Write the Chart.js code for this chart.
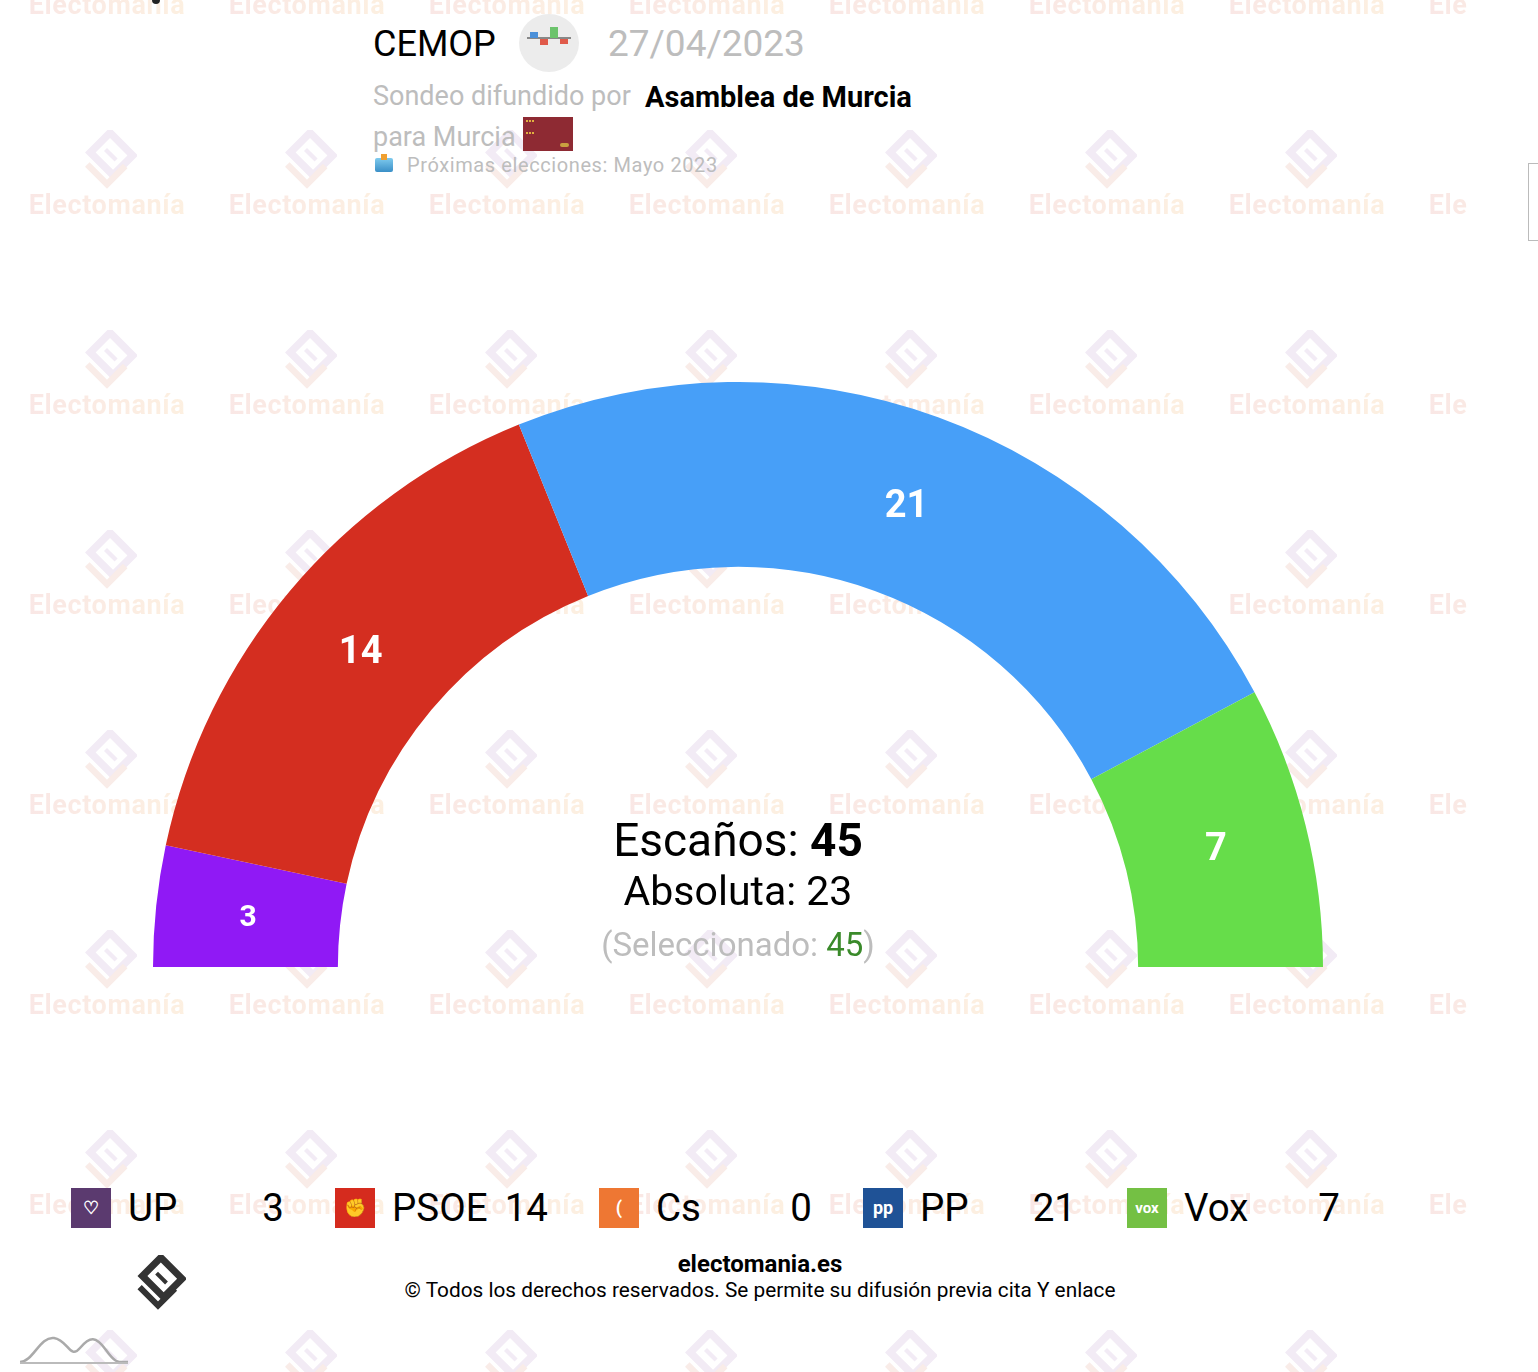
<!DOCTYPE html>
<html>
<head>
<meta charset="utf-8">
<script src="https://cdn.jsdelivr.net/npm/chart.js@4.4.0/dist/chart.umd.min.js"></script>
<style>
  html, body { margin:0; padding:0; background:#fff; }
  body { width:1538px; height:1372px; position:relative; overflow:hidden; font-family: Roboto, "Noto Sans", sans-serif; }
  .abs { position:absolute; white-space:nowrap; }
  #wm { position:absolute; left:0; top:0; width:1467px; height:1372px; overflow:hidden; z-index:0; }
  .wmt { position:absolute; font-weight:700; font-size:27px; letter-spacing:0.6px; width:200px; text-align:center;
         background: linear-gradient(90deg, #f9e6e6, #fdf1e0); -webkit-background-clip:text; background-clip:text; color:transparent; }
  .wml { position:absolute; }
  #chartBox { position:absolute; left:153px; top:382px; width:1170px; height:585px; z-index:1; }
  .leg { position:absolute; top:1188px; height:40px; z-index:2; }
  .ico { position:absolute; left:0; top:0; width:40px; height:40px; color:#fff; font-weight:700; font-size:18px; text-align:center; line-height:40px; }
  .lname { position:absolute; left:57px; top:-4px; font-size:38.5px; color:#000; line-height:48px; }
  .lval { position:absolute; top:-4px; font-size:38.5px; color:#000; line-height:48px; text-align:right; }
  .z { z-index:2; }
</style>
</head>
<body>
<div id="wm"></div>

<!-- header -->
<div class="abs z" style="left:373px; top:22px; font-size:36px; color:#000; line-height:44px;">CEMOP</div>
<div class="abs z" style="left:519px; top:14px; width:60px; height:58px; border-radius:50%; background:#ececec;"></div>
<div class="abs z" style="left:527px; top:37px; width:44px; height:2px; background:#888;"></div>
<div class="abs z" style="left:530px; top:32px; width:8px; height:6px; background:#4a90d9;"></div>
<div class="abs z" style="left:540px; top:39px; width:8px; height:6px; background:#e05a4a;"></div>
<div class="abs z" style="left:550px; top:27px; width:8px; height:11px; background:#6cc36c;"></div>
<div class="abs z" style="left:560px; top:39px; width:8px; height:5px; background:#e05a4a;"></div>
<div class="abs z" style="left:608px; top:22px; font-size:37px; color:#bdbdbd; line-height:44px;">27/04/2023</div>
<div class="abs z" style="left:373px; top:80px; font-size:27px; color:#bdbdbd; line-height:32px;">Sondeo difundido por</div>
<div class="abs z" style="left:645px; top:80px; font-size:29px; font-weight:700; color:#000; line-height:34px;">Asamblea de Murcia</div>
<div class="abs z" style="left:373px; top:121px; font-size:27px; color:#bdbdbd; line-height:32px;">para Murcia</div>
<div class="abs z" style="left:523px; top:117px; width:50px; height:34px; background:#8e2a33;">
  <div style="position:absolute; left:3px; top:3px; width:8px; height:10px; border-top:2px dotted #e0b040; border-bottom:2px dotted #e0b040;"></div>
  <div style="position:absolute; right:4px; bottom:4px; width:9px; height:4px; background:#c9a040; border-radius:2px;"></div>
</div>
<div class="abs z" style="left:375px; top:158px; width:18px; height:14px; background:linear-gradient(180deg,#7fcbee,#3a8fc7); border-radius:2px;"></div>
<div class="abs z" style="left:381px; top:154px; width:6px; height:6px; background:#f0a030;"></div>
<div class="abs z" style="left:407px; top:153px; font-size:20px; color:#bdbdbd; letter-spacing:0.6px; line-height:24px;">Próximas elecciones: Mayo 2023</div>

<div class="abs z" style="left:1528px; top:163px; width:12px; height:78px; border:1px solid #bbb; box-sizing:border-box;"></div>
<div class="abs z" style="left:152px; top:0px; width:8px; height:4px; background:#222; border-radius:0 0 4px 4px;"></div>

<div id="chartBox"><canvas id="c"></canvas></div>

<!-- center text -->
<div class="abs z" style="left:438px; width:600px; top:812px; text-align:center; font-size:46px; line-height:56px; color:#000;">Escaños: <b id="totalSeats"></b></div>
<div class="abs z" style="left:438px; width:600px; top:867px; text-align:center; font-size:41px; line-height:48px; color:#000;">Absoluta: <span id="majority"></span></div>
<div class="abs z" style="left:438px; width:600px; top:925px; text-align:center; font-size:33px; line-height:40px; color:#bdbdbd;">(Seleccionado: <span id="selected" style="color:#3a8a2a;"></span>)</div>

<div id="legend"></div>

<!-- footer -->
<div class="abs z" style="left:460px; width:600px; top:1249px; text-align:center; font-size:24px; font-weight:700; color:#000; line-height:30px;">electomania.es</div>
<div class="abs z" style="left:310px; width:900px; top:1277px; text-align:center; font-size:20.8px; color:#000; line-height:26px;">© Todos los derechos reservados. Se permite su difusión previa cita Y enlace</div>
<svg class="abs z" style="left:130px; top:1255px;" width="56" height="56" viewBox="0 0 56 56">
  <g transform="rotate(45 28 28)">
    <rect x="12" y="8" width="30" height="26" fill="none" stroke="#333" stroke-width="7"/>
    <line x1="20" y1="22" x2="34" y2="22" stroke="#333" stroke-width="4"/>
    <polyline points="18,44 44,44 44,20" fill="none" stroke="#333" stroke-width="6"/>
  </g>
</svg>
<svg class="abs z" style="left:18px; top:1330px;" width="112" height="36" viewBox="0 0 112 36">
  <path d="M2 32 C 15 32, 22 6, 36 8 S 52 30, 62 18 S 78 6, 88 20 S 100 32, 110 32" fill="none" stroke="#aaa" stroke-width="2.5"/>
  <line x1="2" y1="33" x2="110" y2="33" stroke="#bbb" stroke-width="2"/>
</svg>

<script>
// ---- data ----
const parties = ["UP", "PSOE", "Cs", "PP", "Vox"];
const seats = [3, 14, 0, 21, 7];
const partyColors = ["#9019f5", "#d42e20", "#f08a24", "#479ff8", "#66dd4a"];
const iconColors = ["#5b3a6f", "#d52b1e", "#ee7733", "#1f5296", "#74c044"];
const iconGlyphs = ["♡", "✊", "(", "pp", "vox"];
const totalSeats = 45;
const majority = 23;
const selectedSeats = 45;

document.getElementById('totalSeats').textContent = totalSeats;
document.getElementById('majority').textContent = majority;
document.getElementById('selected').textContent = selectedSeats;

// watermark grid
const wm = document.getElementById('wm');
const logoSvg = '<svg width="60" height="60" viewBox="0 0 56 56"><g transform="rotate(45 28 28)">' +
  '<rect x="12" y="8" width="30" height="26" fill="none" stroke="#f2ebf5" stroke-width="7"/>' +
  '<line x1="20" y1="22" x2="34" y2="22" stroke="#f2ebf5" stroke-width="4"/>' +
  '<polyline points="18,44 44,44 44,20" fill="none" stroke="#f9ece8" stroke-width="6"/></g></svg>';
for (let r = 0; r < 7; r++) {
  for (let col = 0; col < 8; col++) {
    const cx = 107 + col * 200, ty = 206 + (r - 1) * 200;
    const t = document.createElement('div');
    t.className = 'wmt'; t.textContent = 'Electomanía';
    t.style.left = (cx - 100) + 'px'; t.style.top = (ty - 17) + 'px';
    wm.appendChild(t);
    const l = document.createElement('div');
    l.className = 'wml'; l.innerHTML = logoSvg;
    l.style.left = (cx - 30) + 'px'; l.style.top = (ty - 76) + 'px';
    wm.appendChild(l);
  }
}
for (let col = 0; col < 8; col++) {
  const l = document.createElement('div');
  l.className = 'wml'; l.innerHTML = logoSvg;
  l.style.left = (107 + col * 200 - 30) + 'px'; l.style.top = (1330) + 'px';
  wm.appendChild(l);
}

// legend
const legend = document.getElementById('legend');
parties.forEach((p, i) => {
  const d = document.createElement('div');
  d.className = 'leg';
  d.style.left = (71 + i * 264) + 'px';
  d.innerHTML = '<div class="ico" style="background:' + iconColors[i] + ';' + (i === 4 ? 'font-size:15px;' : '') + '">' + iconGlyphs[i] + '</div>' +
    '<div class="lname">' + p + '</div>' +
    '<div class="lval" style="left:0; width:213px;">' + seats[i] + '</div>';
  legend.appendChild(d);
});

// value labels plugin
const arcLabels = {
  id: 'arcLabels',
  afterDatasetsDraw(chart) {
    const ctx = chart.ctx;
    const meta = chart.getDatasetMeta(0);
    ctx.save();
    ctx.fillStyle = '#fff';
    ctx.textAlign = 'center';
    ctx.textBaseline = 'middle';
    meta.data.forEach((arc, i) => {
      const v = chart.data.datasets[0].data[i];
      if (!v) return;
      const pos = arc.tooltipPosition();
      ctx.font = 'bold ' + (v < 5 ? 30 : 38) + 'px Roboto, sans-serif';
      ctx.fillText(String(v), pos.x, pos.y + 3);
    });
    ctx.restore();
  }
};

new Chart(document.getElementById('c'), {
  type: 'doughnut',
  data: {
    labels: parties,
    datasets: [{
      data: seats,
      backgroundColor: partyColors,
      borderWidth: 0,
      hoverOffset: 0
    }]
  },
  options: {
    responsive: true,
    maintainAspectRatio: false,
    animation: false,
    rotation: -90,
    circumference: 180,
    cutout: '68.4%',
    layout: { padding: 0 },
    plugins: { legend: { display: false }, tooltip: { enabled: false } }
  },
  plugins: [arcLabels]
});
</script>
</body>
</html>
